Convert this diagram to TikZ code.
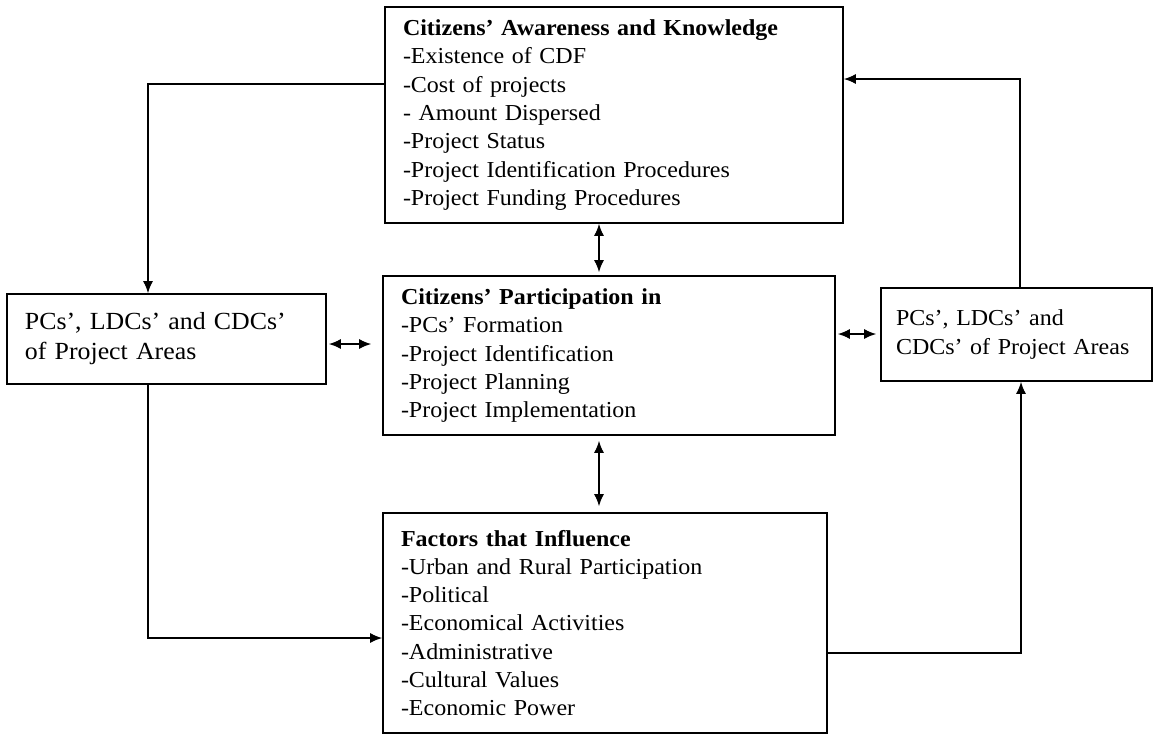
\documentclass[tikz,border=0pt]{standalone}
\usepackage{fontspec}
\setmainfont[FakeStretch=1.05]{Liberation Serif}
\usetikzlibrary{arrows.meta}

\tikzset{
	box/.style={draw, line width=0.9pt, align=left, inner xsep=0.36cm, inner ysep=0pt, font=\fontsize{13}{16.1}\selectfont},
	arr/.style={line width=0.9pt, -{Latex[length=2.4mm,width=2mm]}},
	twoarr/.style={line width=0.9pt, {Latex[length=2.4mm,width=2mm]}-{Latex[length=2.4mm,width=2mm]}}
}

\begin{document}
\begin{tikzpicture}
		
		\useasboundingbox (0,0) rectangle (23.14,-14.74);
		
		% Main boxes
		\node[box, text width=8.44cm, minimum height=4.32cm] (aware) at (12.28,-2.30) {\textbf{Citizens’ Awareness and Knowledge}\\-Existence of CDF\\-Cost of projects\\- Amount Dispersed\\-Project Status\\-Project Identification Procedures\\-Project Funding Procedures};
		\node[box, text width=8.32cm, minimum height=3.18cm] (partic) at (12.18,-7.11) {\textbf{Citizens’ Participation in}\\-PCs’ Formation\\-Project Identification\\-Project Planning\\-Project Implementation};
		\node[box, text width=8.16cm, minimum height=4.40cm] (factors) at (12.10,-12.46) {\textbf{Factors that Influence}\\-Urban and Rural Participation\\-Political\\-Economical Activities\\-Administrative\\-Cultural Values\\-Economic Power};
		
		% Side boxes
		\node[box, font=\fontsize{14}{17}\selectfont, text width=5.66cm, minimum height=1.80cm] (leftpc) at (3.33,-6.78) {PCs’, LDCs’ and CDCs’\\of Project Areas};
		\node[box, inner xsep=0.3cm, text width=4.82cm, minimum height=1.86cm] (rightpc) at (20.33,-6.69) {PCs’, LDCs’ and\\CDCs’ of Project Areas};
		
		% Corner points of the loop
		\coordinate (tl) at (2.96,-1.68);
		\coordinate (bl) at (2.96,-12.76);
		\coordinate (br) at (20.42,-13.06);
		\coordinate (tr) at (20.40,-1.58);
		\coordinate (mid) at (11.98,0);
		
		% Outer loop
		\draw[arr] (aware.west |- tl) -- (tl) -- (tl |- leftpc.north); % down to left box
		\draw[arr] (tl |- leftpc.south) -- (bl) -- (factors.west |- bl); % into factors
		\draw[arr] (factors.east |- br) -- (br) -- (br |- rightpc.south); % up to right box
		\draw[arr] (tr |- rightpc.north) -- (tr) -- (aware.east |- tr); % back to awareness
		
		% Two-way links
		\draw[twoarr, shorten >=0.06cm] (mid |- aware.south) -- (mid |- partic.north);
		\draw[twoarr, shorten <=0.1cm, shorten >=0.12cm] (mid |- partic.south) -- (mid |- factors.north);
		\draw[twoarr, shorten <=0.04cm, shorten >=0.22cm] (leftpc.east |- 0,-6.88) -- (partic.west |- 0,-6.88);
		\draw[twoarr, shorten <=0.04cm, shorten >=0.08cm] (partic.east |- 0,-6.68) -- (rightpc.west |- 0,-6.68);
		
	\end{tikzpicture}
\end{document}
